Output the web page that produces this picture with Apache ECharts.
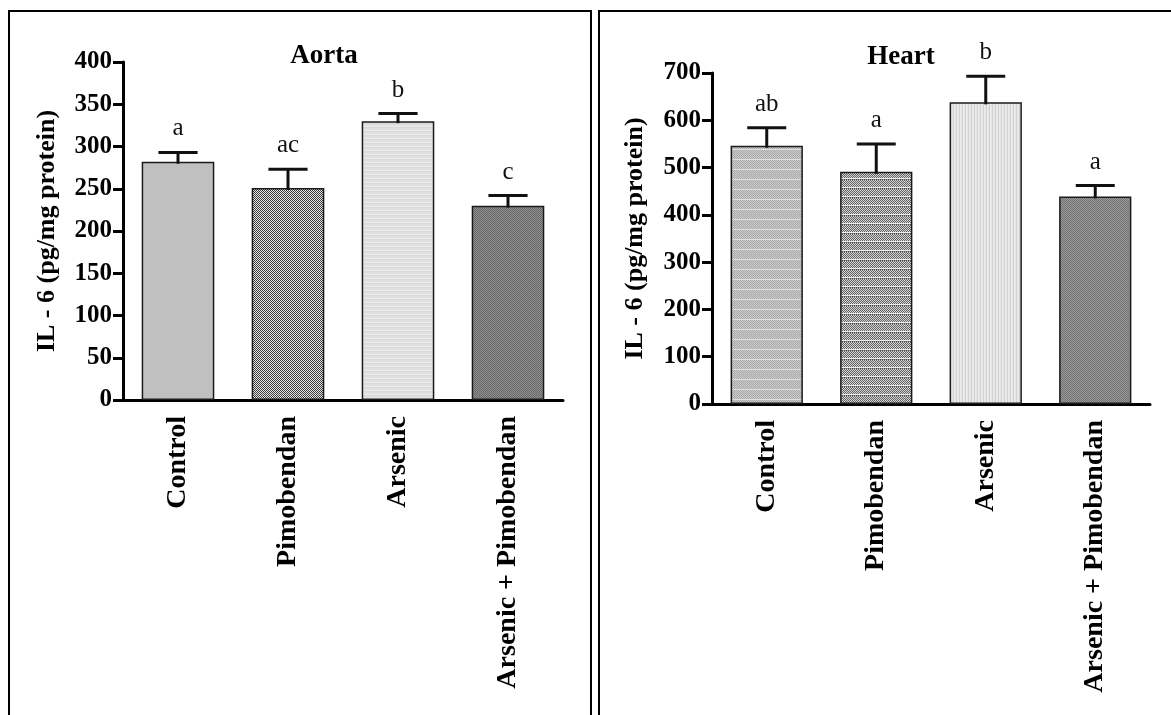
<!DOCTYPE html>
<html>
<head>
<meta charset="utf-8">
<title>IL-6 in Aorta and Heart</title>
<script src="https://cdn.jsdelivr.net/npm/echarts@6/dist/echarts.min.js"></script>
<style>
  html, body { margin: 0; padding: 0; background: #ffffff; }
  #chart { width: 1171px; height: 715px; }
</style>
</head>
<body>
<div id="chart"></div>
<script>
// Treatment groups
const categories = ['Control', 'Pimobendan', 'Arsenic', 'Arsenic + Pimobendan'];

// Aorta IL-6 (pg/mg protein): mean, SEM and significance letters
const aortaMean = [282, 251, 330, 230];
const aortaSem = [11, 22, 9, 12];
const aortaLetters = ['a', 'ac', 'b', 'c'];

// Heart IL-6 (pg/mg protein): mean, SEM and significance letters
const heartMean = [546, 491, 638, 439];
const heartSem = [38, 59, 55, 23];
const heartLetters = ['ab', 'a', 'b', 'a'];

// Value axis ranges
const aortaAxis = { min: 0, max: 400, interval: 50 };
const heartAxis = { min: 0, max: 700, interval: 100 };

const SERIF = '"Liberation Serif", "Times New Roman", Times, serif';

// Small tiled fills that give each bar its printed texture
function tile(w, h, paint) {
  const c = document.createElement('canvas');
  c.width = w; c.height = h;
  const ctx = c.getContext('2d');
  paint(ctx, w, h);
  return { image: c, repeat: 'repeat' };
}
function checker(ctx, w, rows, a, b) {
  for (let y = 0; y < rows; y++) {
    for (let x = 0; x < w; x++) {
      ctx.fillStyle = ((x + y) % 2 === 0) ? a : b;
      ctx.fillRect(x, y, 1, 1);
    }
  }
}

const aortaFills = [
  '#c0c0c0',
  tile(2, 2, (ctx) => checker(ctx, 2, 2, '#3c3c3c', '#e4e4e4')),
  tile(1, 4, (ctx) => {
    const rows = ['#dedede', '#e2e2e2', '#ebebeb', '#d9d9d9'];
    rows.forEach((c, i) => { ctx.fillStyle = c; ctx.fillRect(0, i, 1, 1); });
  }),
  tile(2, 2, (ctx) => checker(ctx, 2, 2, '#6a6a6a', '#8e8e8e'))
];

const heartFills = [
  tile(2, 10, (ctx) => {
    checker(ctx, 2, 9, '#a9a9a9', '#cbcbcb');
    ctx.fillStyle = '#dedede'; ctx.fillRect(0, 9, 2, 1);
  }),
  tile(2, 9, (ctx) => {
    checker(ctx, 2, 7, '#626262', '#d6d6d6');
    ctx.fillStyle = '#eeeeee'; ctx.fillRect(0, 7, 2, 1);
    ctx.fillStyle = '#4a4a4a'; ctx.fillRect(0, 8, 1, 1);
    ctx.fillStyle = '#9a9a9a'; ctx.fillRect(1, 8, 1, 1);
  }),
  tile(3, 1, (ctx) => {
    const cols = ['#ebebeb', '#e6e6e6', '#d2d2d2'];
    cols.forEach((c, i) => { ctx.fillStyle = c; ctx.fillRect(i, 0, 1, 1); });
  }),
  tile(2, 2, (ctx) => checker(ctx, 2, 2, '#747474', '#979797'))
];

function barData(means, fills) {
  return means.map((v, i) => ({
    value: v,
    itemStyle: { color: fills[i], borderColor: '#1a1a1a', borderWidth: 1.5 }
  }));
}

function errorData(means, sems) {
  return means.map((v, i) => [i, v, sems[i]]);
}

// Upward SEM whisker with cap, plus the group letter above it
function errorRenderer(letters) {
  return function (params, api) {
    const idx = api.value(0);
    const mean = api.value(1);
    const sem = api.value(2);
    const base = api.coord([idx, mean]);
    const top = api.coord([idx, mean + sem]);
    const band = api.size([1, 0])[0];
    const half = band * 0.178;
    const style = { stroke: '#111', lineWidth: 3 };
    return {
      type: 'group',
      children: [
        { type: 'line', shape: { x1: base[0], y1: base[1] + 2, x2: top[0], y2: top[1] }, style },
        { type: 'line', shape: { x1: top[0] - half, y1: top[1], x2: top[0] + half, y2: top[1] }, style },
        {
          type: 'text',
          x: top[0], y: top[1] - 11,
          style: {
            text: letters[params.dataIndex],
            align: 'center', verticalAlign: 'bottom',
            font: '25px ' + SERIF, fill: '#111'
          }
        }
      ]
    };
  };
}

function xAxis(gridIndex) {
  return {
    type: 'category',
    gridIndex,
    data: categories,
    axisLine: { lineStyle: { color: '#000', width: 3 } },
    axisTick: { alignWithLabel: true, length: 10, lineStyle: { color: '#000', width: 3 } },
    axisLabel: {
      rotate: 90, margin: 16, interval: 0,
      fontFamily: SERIF, fontWeight: 'bold', fontSize: 28, color: '#000'
    },
    splitLine: { show: false }
  };
}

function yAxis(gridIndex, range, gap) {
  return {
    type: 'value',
    gridIndex,
    min: range.min, max: range.max, interval: range.interval,
    name: 'IL - 6 (pg/mg protein)',
    nameLocation: 'middle', nameRotate: 90, nameGap: gap,
    nameTextStyle: { fontFamily: SERIF, fontWeight: 'bold', fontSize: 26, color: '#000' },
    axisLine: { show: true, lineStyle: { color: '#000', width: 3 } },
    axisTick: { show: true, length: 10, lineStyle: { color: '#000', width: 3 } },
    axisLabel: { margin: 11, fontFamily: SERIF, fontWeight: 'bold', fontSize: 25, color: '#000' },
    splitLine: { show: false }
  };
}

const chart = echarts.init(document.getElementById('chart'), null, { renderer: 'canvas' });

chart.setOption({
  backgroundColor: '#ffffff',
  animation: false,
  title: [
    { text: 'Aorta', left: 319, top: 38, textAlign: 'center',
      textStyle: { fontFamily: SERIF, fontWeight: 'bold', fontSize: 27, color: '#000' } },
    { text: 'Heart', left: 896, top: 39, textAlign: 'center',
      textStyle: { fontFamily: SERIF, fontWeight: 'bold', fontSize: 27, color: '#000' } }
  ],
  grid: [
    { left: 123, right: 608, top: 62, bottom: 315 },
    { left: 712, right: 21, top: 73, bottom: 311 }
  ],
  xAxis: [xAxis(0), xAxis(1)],
  yAxis: [yAxis(0, aortaAxis, 63), yAxis(1, heartAxis, 64)],
  series: [
    { type: 'bar', xAxisIndex: 0, yAxisIndex: 0, barCategoryGap: '34%',
      data: barData(aortaMean, aortaFills), z: 2 },
    { type: 'custom', xAxisIndex: 0, yAxisIndex: 0, renderItem: errorRenderer(aortaLetters),
      data: errorData(aortaMean, aortaSem), z: 3 },
    { type: 'bar', xAxisIndex: 1, yAxisIndex: 1, barCategoryGap: '34%',
      data: barData(heartMean, heartFills), z: 2 },
    { type: 'custom', xAxisIndex: 1, yAxisIndex: 1, renderItem: errorRenderer(heartLetters),
      data: errorData(heartMean, heartSem), z: 3 }
  ],
  graphic: [
    // panel frames
    { type: 'rect', shape: { x: 9, y: 11, width: 582, height: 720 },
      style: { fill: 'none', stroke: '#000', lineWidth: 2 }, silent: true },
    { type: 'rect', shape: { x: 599, y: 11, width: 600, height: 720 },
      style: { fill: 'none', stroke: '#000', lineWidth: 2 }, silent: true }
  ]
});
</script>
</body>
</html>
